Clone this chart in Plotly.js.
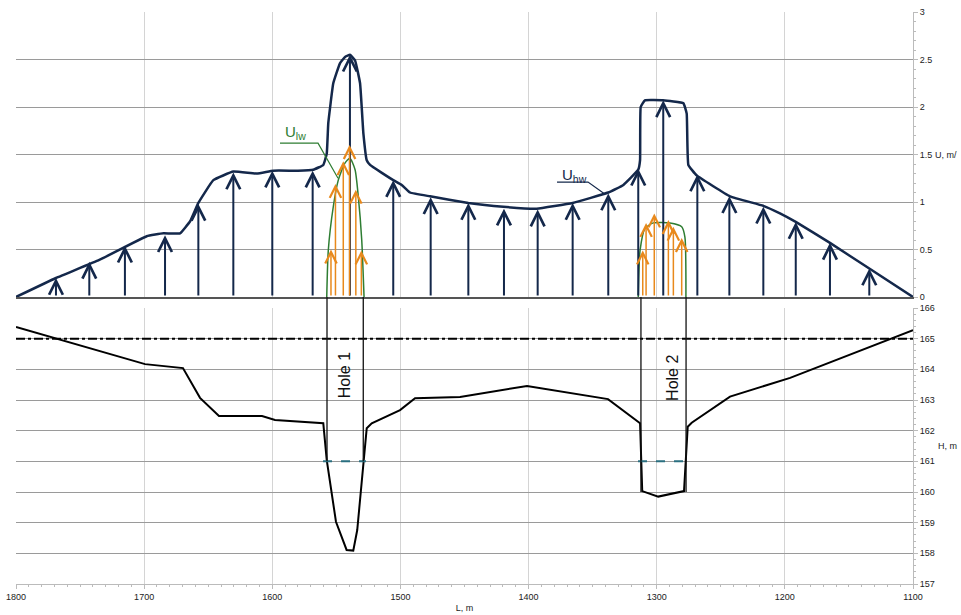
<!DOCTYPE html>
<html>
<head>
<meta charset="utf-8">
<script src="https://cdn.plot.ly/plotly-3.0.1.min.js"></script>
<style>html,body{margin:0;padding:0;background:#fff;}#chart{width:961px;height:615px;}</style>
</head>
<body>
<div id="chart"></div>
<script>
// ---- data ----
const xTicks = [1800, 1700, 1600, 1500, 1400, 1300, 1200, 1100];

// high-water velocity envelope U_hw
const envL = [1800, 1768.8, 1735, 1698, 1685, 1672, 1664, 1657.7, 1646, 1630.4, 1612, 1599.2, 1580, 1568, 1560.2, 1557.5, 1556.3, 1552.4, 1547.2, 1543, 1539.4, 1535.4, 1531.5, 1528.9, 1526.3, 1523.7, 1505.6, 1499, 1492.5, 1476.9, 1447, 1419.7, 1393.7, 1365.6, 1337.8, 1326, 1314.4, 1313, 1312.5, 1309.2, 1295.1, 1279.2, 1276.6, 1275.3, 1268.8, 1242.8, 1216.8, 1203.8, 1191.5, 1164.8, 1134.1, 1100];
const envU = [0, 0.2, 0.39, 0.64, 0.67, 0.67, 0.8, 0.99, 1.23, 1.32, 1.30, 1.33, 1.33, 1.34, 1.39, 1.51, 1.83, 2.25, 2.46, 2.53, 2.55, 2.49, 2.25, 1.72, 1.44, 1.39, 1.23, 1.18, 1.10, 1.06, 0.99, 0.95, 0.93, 0.99, 1.10, 1.18, 1.34, 1.44, 2.0, 2.07, 2.07, 2.04, 1.93, 1.39, 1.28, 1.06, 0.96, 0.88, 0.79, 0.57, 0.30, 0];

// high-water velocity vectors
const arrowL = [1768.8, 1742.8, 1715, 1683.7, 1657.7, 1630.4, 1600, 1568.5, 1539.4, 1505.6, 1476.4, 1447, 1419.2, 1392.9, 1365.6, 1337.8, 1314.4, 1294.9, 1268.3, 1243.3, 1216.8, 1191.5, 1164.8, 1134.1];
const arrowU = [0.20, 0.37, 0.54, 0.65, 0.98, 1.31, 1.33, 1.33, 2.55, 1.23, 1.05, 0.99, 0.93, 0.92, 0.99, 1.09, 1.35, 2.07, 1.29, 1.06, 0.95, 0.79, 0.57, 0.30];

// low-water velocity curves U_lw (hole 1, hole 2)
const lw1L = [1557.5, 1556.3, 1552.4, 1548.5, 1543.3, 1539.4, 1535.4, 1532.9, 1530.2, 1528.4];
const lw1U = [0, 0.49, 0.95, 1.23, 1.41, 1.46, 1.34, 1.06, 0.60, 0];
const lw2L = [1314.4, 1313, 1309.2, 1302.7, 1289.7, 1280.5, 1278, 1277.2];
const lw2U = [0, 0.49, 0.72, 0.78, 0.78, 0.74, 0.63, 0];

// low-water velocity vectors
const lowArrowL = [1554.2, 1550.7, 1544.6, 1539.7, 1534.8, 1530.5, 1310.9, 1308.3, 1301.9, 1290.9, 1287, 1280.5];
const lowArrowU = [0.50, 1.19, 1.43, 1.60, 1.13, 0.49, 0.49, 0.78, 0.88, 0.81, 0.74, 0.62];

// bed profile H
const profL = [1800, 1699.3, 1669.7, 1656.4, 1641.6, 1608, 1597.9, 1560.2, 1557.5, 1550.3, 1542, 1536.8, 1533.7, 1528.9, 1526.3, 1522.4, 1500.3, 1488.6, 1453.5, 1401.2, 1338, 1313, 1311.3, 1298.8, 1278.7, 1275.8, 1272.7, 1242.8, 1195.9, 1100];
const profH = [165.38, 164.17, 164.04, 163.07, 162.48, 162.48, 162.35, 162.24, 161.04, 159.03, 158.11, 158.09, 158.76, 161.04, 162.08, 162.24, 162.67, 163.06, 163.10, 163.46, 163.03, 162.24, 160.03, 159.85, 160.03, 162.13, 162.26, 163.11, 163.72, 165.28];

// high water level
const waterL = [1800, 1100];
const waterH = [165, 165];

// low water level within the holes
const lowLevelL = [1560.4, 1526.9, null, 1314.6, 1274.8];
const lowLevelH = [161, 161, null, 161, 161];

// hole edges
const holeNames = ['Hole 1', 'Hole 2'];
const holeEdgeL = [[1557.3, 1529.0], [1312.3, 1277.1]];
const holeBottomH = [161, 160];

// ---- layout constants ----
const W = 961, H = 615;
const mL = 16, mR = 48, mT = 12, mB = 31;
const plotH = H - mT - mB;
const topDom = [(H - mB - 297) / plotH, 1];
const botDom = [0, (H - mB - 308) / plotH];
const botRange = [157, 166];
function paperYBottom(h) { return botDom[0] + (h - botRange[0]) / (botRange[1] - botRange[0]) * (botDom[1] - botDom[0]); }

const navy = '#14284b';
const green = '#2e7d32';
const orange = '#e8891c';
const tickFont = {family: 'Liberation Sans Narrow, Arial Narrow, Liberation Sans, sans-serif', size: 9, color: '#222'};

const traces = [
  {x: waterL, y: waterH, xaxis: 'x2', yaxis: 'y2', mode: 'lines', line: {color: '#000', width: 2, dash: 'dashdot'}, hoverinfo: 'skip'},
  {x: profL, y: profH, xaxis: 'x2', yaxis: 'y2', mode: 'lines', line: {color: '#000', width: 2}, hoverinfo: 'skip'},
  {x: lowLevelL, y: lowLevelH, xaxis: 'x2', yaxis: 'y2', mode: 'lines', line: {color: '#2a6f80', width: 2, dash: 'dash'}, hoverinfo: 'skip'},
  {x: envL, y: envU, xaxis: 'x', yaxis: 'y', mode: 'lines', line: {color: navy, width: 2.5, shape: 'spline', smoothing: 0.3}, hoverinfo: 'skip'},
  {x: lw1L, y: lw1U, xaxis: 'x', yaxis: 'y', mode: 'lines', line: {color: green, width: 1.5, shape: 'spline', smoothing: 0.6}, hoverinfo: 'skip'},
  {x: lw2L, y: lw2U, xaxis: 'x', yaxis: 'y', mode: 'lines', line: {color: green, width: 1.5, shape: 'spline', smoothing: 0.6}, hoverinfo: 'skip'}
];

const annotations = [];
arrowL.forEach((l, i) => {
  annotations.push({x: l, y: arrowU[i], ax: l, ay: 0, xref: 'x', yref: 'y', axref: 'x', ayref: 'y', text: '', showarrow: true,
    arrowhead: 5, arrowsize: 1.35, arrowwidth: 2, arrowcolor: navy, standoff: 0});
});
lowArrowL.forEach((l, i) => {
  annotations.push({x: l, y: lowArrowU[i], ax: l, ay: 0, xref: 'x', yref: 'y', axref: 'x', ayref: 'y', text: '', showarrow: true,
    arrowhead: 5, arrowsize: 1.5, arrowwidth: 1.5, arrowcolor: orange, standoff: 0});
});
// labels
annotations.push({x: 1581.9, y: 1.73, xref: 'x', yref: 'y', text: 'U<sub>lw</sub>', showarrow: false, font: {family: 'Liberation Sans, Arial, sans-serif', size: 15, color: green}});
annotations.push({x: 1364.5, y: 1.28, xref: 'x', yref: 'y', text: 'U<sub>hw</sub>', showarrow: false, font: {family: 'Liberation Sans, Arial, sans-serif', size: 15, color: navy}});
annotations.push({x: 1543, y: 163.82, xref: 'x2', yref: 'y2', text: holeNames[0], textangle: -90, showarrow: false, font: {family: 'Liberation Sans, Arial, sans-serif', size: 16, color: '#111'}});
annotations.push({x: 1287.3, y: 163.72, xref: 'x2', yref: 'y2', text: holeNames[1], textangle: -90, showarrow: false, font: {family: 'Liberation Sans, Arial, sans-serif', size: 16, color: '#111'}});
// axis titles
annotations.push({x: (933 - mL) / (W - mL - mR), y: 1.5, xref: 'paper', yref: 'y', xanchor: 'left', text: 'U, m/', showarrow: false, font: tickFont});
annotations.push({x: (936 - mL) / (W - mL - mR), y: 161.5, xref: 'paper', yref: 'y2', xanchor: 'left', text: 'H, m', showarrow: false, font: tickFont});

const shapes = [];
holeEdgeL.forEach((pair, k) => {
  pair.forEach(l => {
    shapes.push({type: 'line', xref: 'x', yref: 'paper', x0: l, x1: l, y0: paperYBottom(holeBottomH[k]), y1: topDom[0], line: {color: '#111', width: 1.3}, layer: 'above'});
  });
});
// leader lines for labels
shapes.push({type: 'path', xref: 'x', yref: 'y', path: 'M1594,1.62 L1564.3,1.62 L1548.7,1.25', line: {color: green, width: 1.2}});
shapes.push({type: 'path', xref: 'x', yref: 'y', path: 'M1377.8,1.21 L1353.6,1.21 L1341.1,1.09', line: {color: navy, width: 1.2}});

const xCommon = {range: [1800, 1100], tickvals: xTicks, showgrid: true, gridcolor: '#d4d4d4', gridwidth: 1, zeroline: false};
const layout = {
  width: W, height: H,
  margin: {l: mL, r: mR, t: mT, b: mB},
  paper_bgcolor: '#fff', plot_bgcolor: '#fff',
  showlegend: false,
  xaxis: Object.assign({}, xCommon, {anchor: 'y', domain: [0, 1], showticklabels: false, ticks: '', showline: true, linecolor: '#555', linewidth: 2}),
  xaxis2: Object.assign({}, xCommon, {anchor: 'y2', domain: [0, 1], matches: 'x', showticklabels: true, ticks: 'outside', ticklen: 4, tickcolor: '#bbb',
    showline: true, linecolor: '#bbb', linewidth: 1, tickfont: tickFont,
    minor: {dtick: 10, ticks: 'outside', ticklen: 2, tickcolor: '#bbb', showgrid: false},
    title: {text: 'L, m', font: {family: 'Liberation Sans Narrow, Arial Narrow, sans-serif', size: 9, color: '#222'}, standoff: 3}}),
  yaxis: {domain: topDom, anchor: 'x', side: 'right', range: [0, 3], dtick: 0.5, tick0: 0, showgrid: true, gridcolor: '#9a9a9a', gridwidth: 1, zeroline: false,
    showline: true, linecolor: '#bbb', ticks: 'outside', ticklen: 4, tickcolor: '#bbb', tickfont: tickFont,
    minor: {dtick: 0.1, ticks: 'outside', ticklen: 2, tickcolor: '#bbb', showgrid: false}},
  yaxis2: {domain: botDom, anchor: 'x2', side: 'right', range: botRange, dtick: 1, tick0: 157, showgrid: true, gridcolor: '#9a9a9a', gridwidth: 1, zeroline: false,
    showline: true, linecolor: '#bbb', ticks: 'outside', ticklen: 4, tickcolor: '#bbb', tickfont: tickFont,
    minor: {dtick: 0.2, ticks: 'outside', ticklen: 2, tickcolor: '#bbb', showgrid: false}},
  annotations: annotations,
  shapes: shapes
};

Plotly.newPlot('chart', traces, layout, {staticPlot: true, displayModeBar: false});
</script>
</body>
</html>
